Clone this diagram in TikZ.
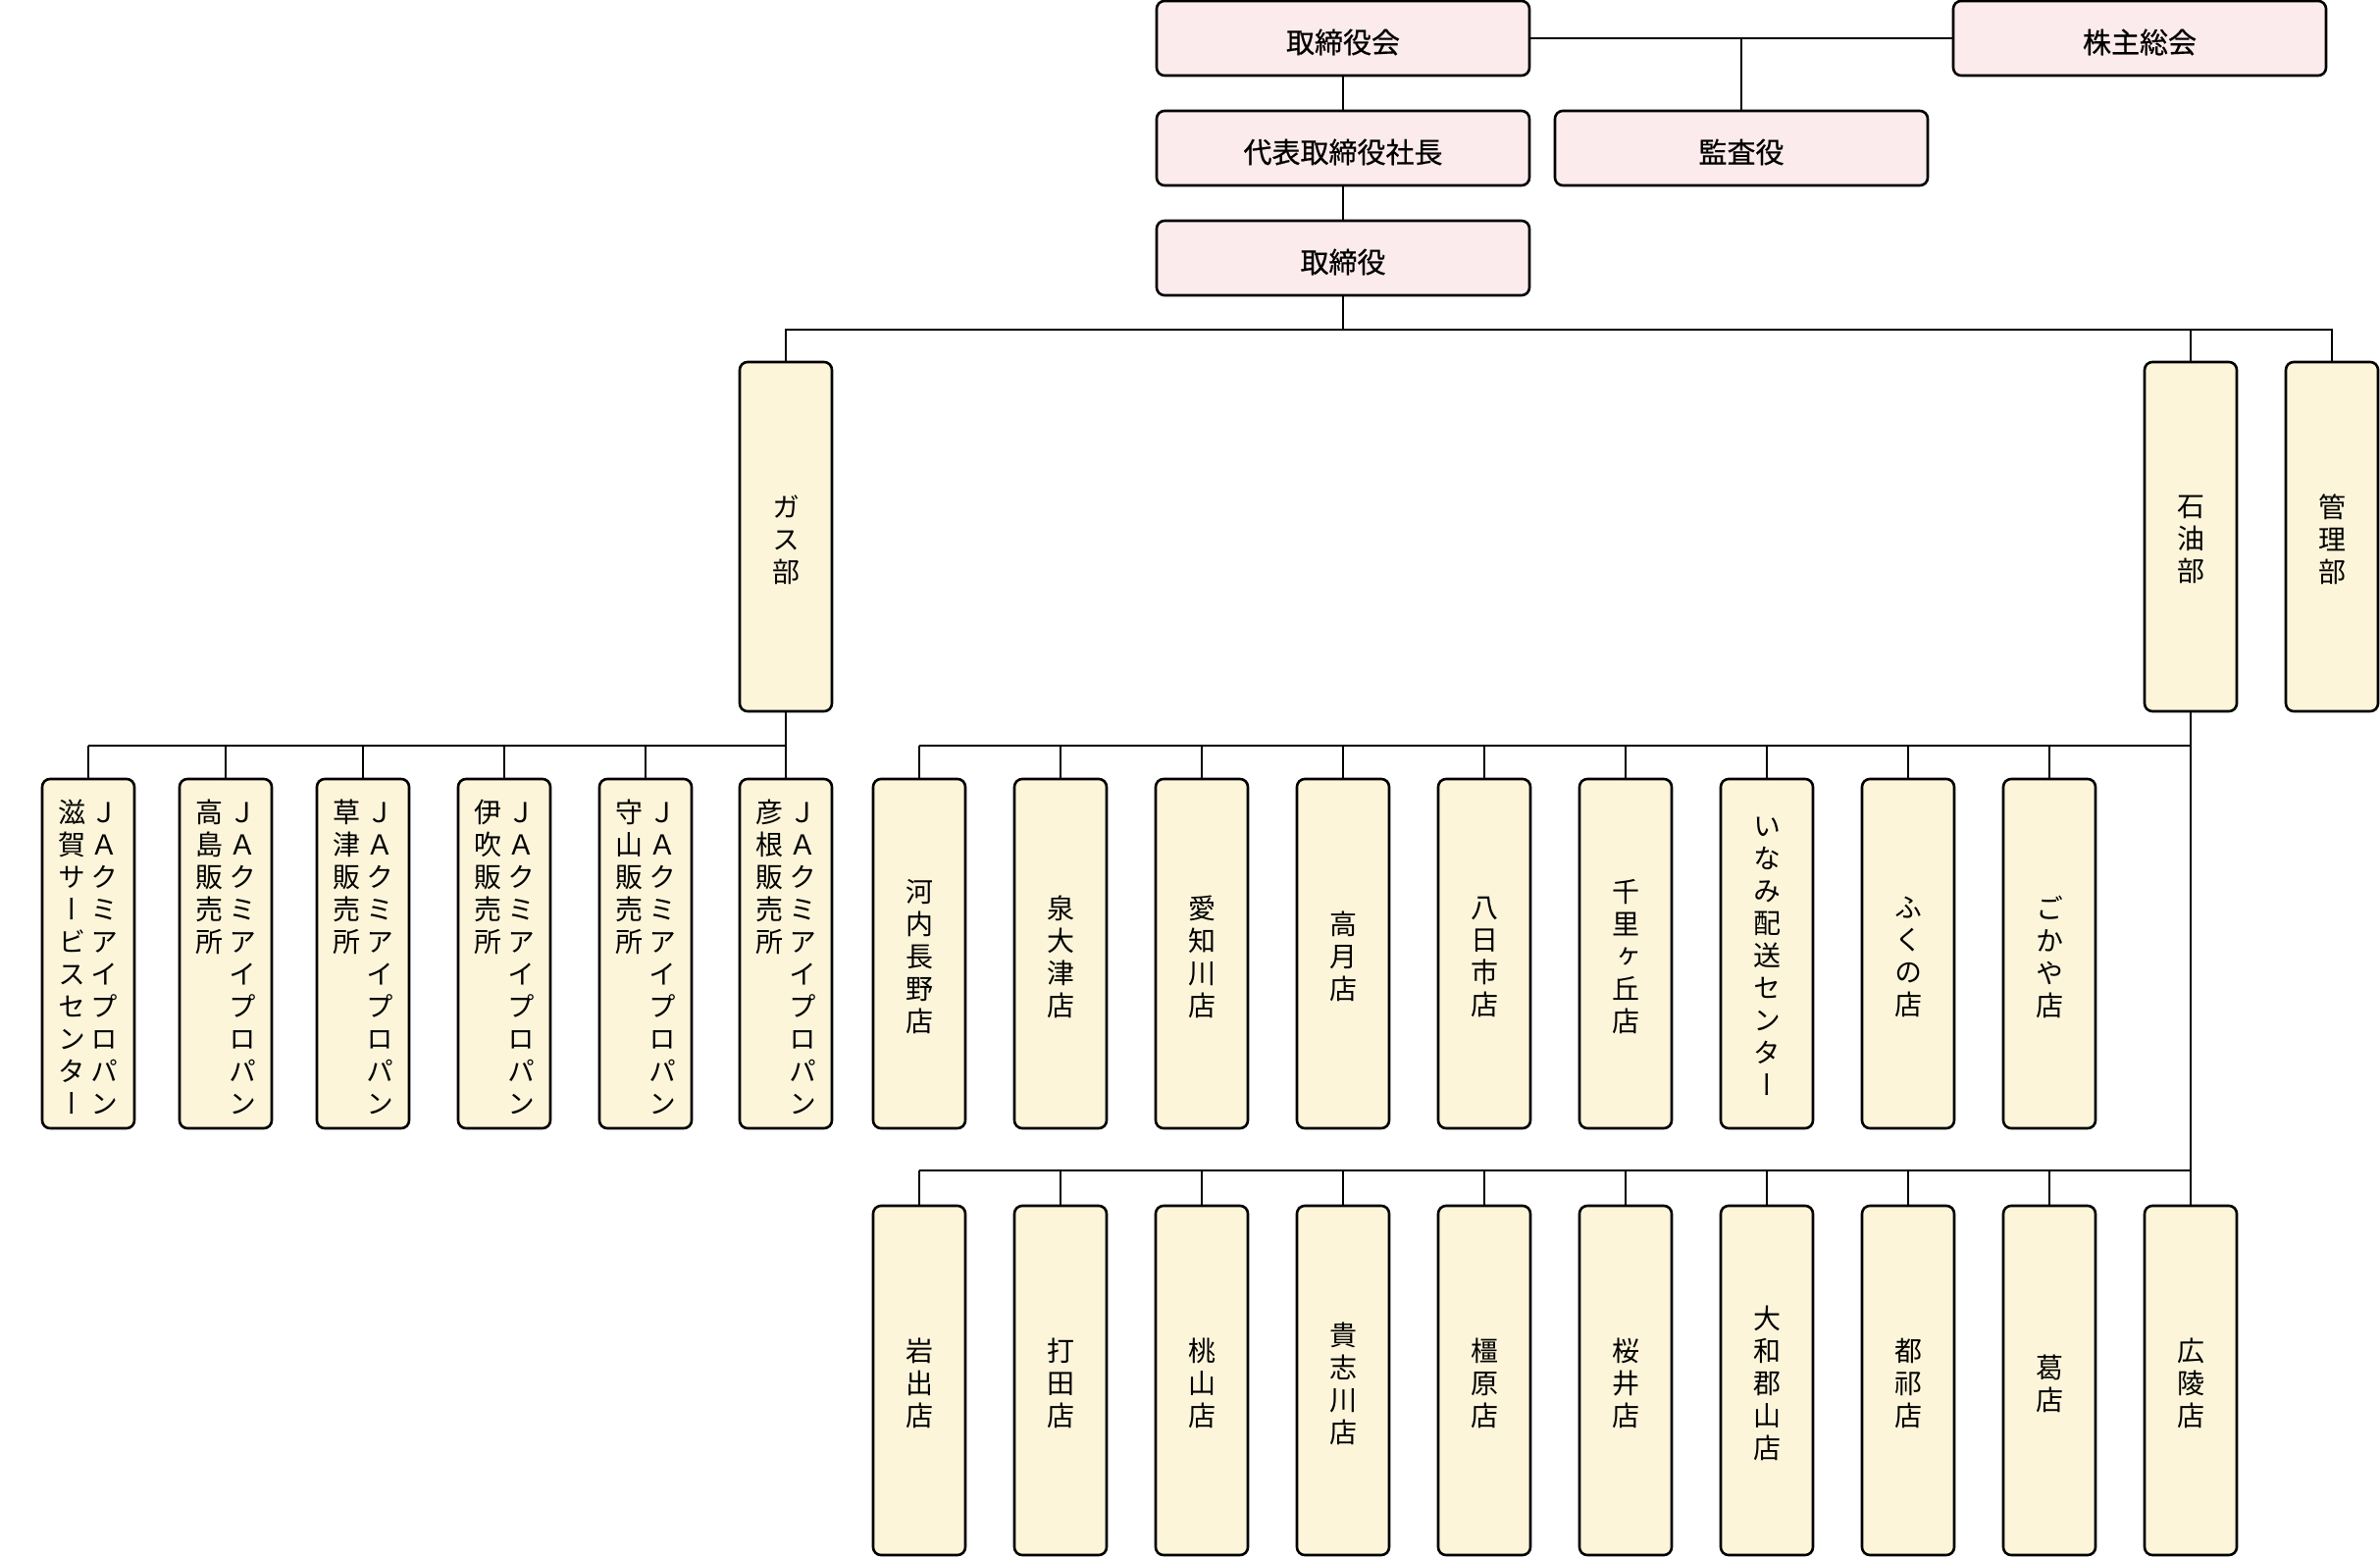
\documentclass[tikz,border=0pt]{standalone}
\usepackage{fontspec}
\setmainfont{Noto Sans CJK JP}
\newfontfamily\jpm[FakeBold=0.6]{Noto Sans CJK JP}
\newfontfamily\jpv[RawFeature=+vert]{Noto Sans CJK JP}
\definecolor{pinkc}{HTML}{FCEBEC}
\definecolor{yelc}{HTML}{FCF5DA}
\def\vtinner#1{\ifx\relax#1\else\hbox to 14pt{\hss#1\hss}\expandafter\vtinner\fi}
\newcommand\vcol[1]{\vtop{\baselineskip=16.5pt\lineskiplimit=-20pt\vtinner#1\relax}}
\newcommand\vcolx[1]{\expandafter\vcol\expandafter{#1}}
\tikzset{
  topbox/.style={draw, line width=1.3pt, rounded corners=4pt, fill=pinkc,
    minimum width=190pt, minimum height=38pt, inner sep=0pt,
    font=\jpm\fontsize{14.5pt}{17pt}\selectfont,
    execute at begin node={\vbox\bgroup\kern4pt\hbox\bgroup},
    execute at end node={\egroup\egroup}},
  tallbox/.style={draw, line width=1.3pt, rounded corners=4pt, fill=yelc,
    minimum width=47pt, minimum height=178pt, inner sep=0pt,
    font=\jpv\fontsize{14pt}{16.5pt}\selectfont,
    execute at begin node={\vbox\bgroup\kern3pt\hbox\bgroup},
    execute at end node={\egroup\egroup}},
  conn/.style={line width=1pt}
}
\begin{document}
\begin{tikzpicture}[x=0.5pt,y=-0.5pt]
\useasboundingbox (0,0) rectangle (2426,1588);
% top level
\node[topbox] (tk) at (1369,39) {取締役会};
\node[topbox] (kb) at (2181,39) {株主総会};
\node[topbox] (dh) at (1369,151) {代表取締役社長};
\node[topbox] (ks) at (1775,151) {監査役};
\node[topbox] (tr) at (1369,263) {取締役};
\draw[conn, line width=1.3pt] (tk.east) -- (kb.west);
\draw[conn] (ks.north) -- (ks.north |- tk.east);
\draw[conn] (tk.south) -- (dh.north);
\draw[conn] (dh.south) -- (tr.north);
% departments
\node[tallbox] (gs) at (801,547) {\vcol{ガス部}};
\node[tallbox] (oil) at (2233,547) {\vcol{石油部}};
\node[tallbox] (kr) at (2377,547) {\vcol{管理部}};
\coordinate (b1) at (1369,336);
\draw[conn] (tr.south) -- (b1);
\draw[conn] (gs.north) |- (b1) -| (kr.north);
\draw[conn] (oil.north) -- (oil.north |- b1);
% gas sub offices
\coordinate (gl) at (801,760);
\foreach \x/\t [count=\i] in {90/滋賀サービスセンター,230/高島販売所,370/草津販売所,514/伊吹販売所,658/守山販売所,801/彦根販売所}{
  \node[tallbox] (g\i) at (\x,972) {\vcolx{\t}\hskip3pt\vcol{ＪＡクミアイプロパン}};
  \draw[conn] (g\i.north) -- (g\i.north |- gl);
}
\draw[conn] (gs.south) -- (gl);
\draw[conn] (g1.north |- gl) -- (gl);
% oil row 1
\foreach \t [count=\i] in {河内長野店,泉大津店,愛知川店,高月店,八日市店,千里ヶ丘店,いなみ配送センター,ふくの店,ごかや店}{
  \node[tallbox] (a\i) at ({937+144*(\i-1)},972) {\vcolx{\t}};
}
% oil row 2
\foreach \t [count=\i] in {岩出店,打田店,桃山店,貴志川店,橿原店,桜井店,大和郡山店,都祁店,葛店,広陵店}{
  \node[tallbox] (p\i) at ({937+144*(\i-1)},1407) {\vcolx{\t}};
}
\coordinate (r1) at (2233,760);
\coordinate (r2) at (2233,1193);
\draw[conn] (oil.south) -- (p10.north);
\draw[conn] (a1.north |- r1) -- (r1);
\draw[conn, line width=1.3pt] (p1.north |- r2) -- (r2);
\foreach \i in {1,...,9}{\draw[conn] (a\i.north) -- (a\i.north |- r1);}
\foreach \i in {1,...,9}{\draw[conn] (p\i.north) -- (p\i.north |- r2);}
\end{tikzpicture}
\end{document}
